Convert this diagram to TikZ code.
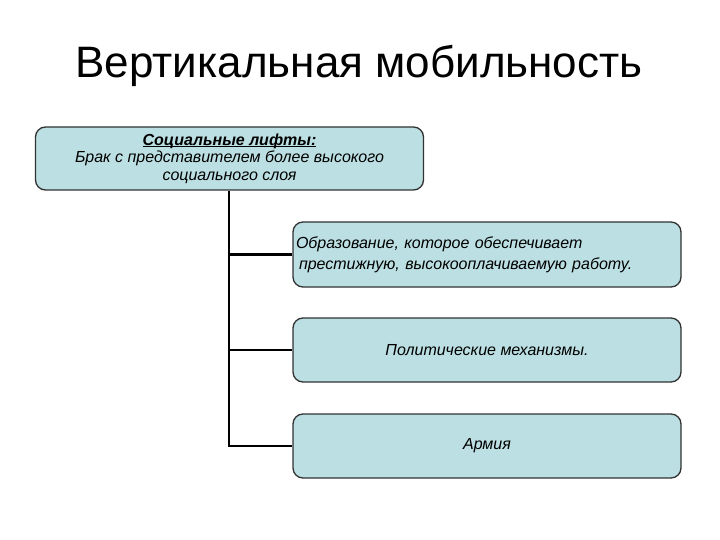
\documentclass[tikz,border=0pt]{standalone}
\usepackage{fontspec}
\setmainfont{Liberation Sans}
\definecolor{boxfill}{RGB}{187,223,226}
\definecolor{boxline}{RGB}{50,50,50}
\newcommand\myul[1]{\setbox0\hbox{#1}\rlap{\rule[-2pt]{\wd0}{0.9pt}}\box0}
\begin{document}
\begin{tikzpicture}[x=1pt,y=-1pt,
  lbox/.style={draw=boxline,line width=1.3pt,fill=boxfill,rounded corners=10pt,
    minimum width=388pt,inner sep=0pt,font=\fontsize{16}{17.5}\selectfont\itshape},
  conn/.style={draw=black,line width=2.8pt}]
\useasboundingbox (0,0) rectangle (720,540);
\node (title) at (359,66) {\fontsize{44}{50}\selectfont Вертикальная мобильность};
\node[lbox,minimum height=63pt,align=center] (top) at (229.5,158.5)
  {\myul{\bfseries Социальные лифты:}\\Брак с представителем более высокого\\социального слоя};
\node[lbox,minimum height=65pt,align=left,text width=382pt,
  font=\fontsize{16}{21}\selectfont\itshape] (b1) at (487,254.5)
  {Образование, которое обеспечивает\\\hspace{3pt}престижную, высокооплачиваемую работу.};
\node[lbox,minimum height=64pt] (b2) at (487,350) {Политические механизмы.};
\node[lbox,minimum height=64pt] (b3) at (487,446) {Армия};
\coordinate (j1) at (229,254.5);
\coordinate (j2) at (229,350);
\coordinate (j3) at (229,446);
\draw[conn] (top.south -| j1) -- (j3) -- (b3.west);
\draw[conn] (j1) -- (b1.west);
\draw[conn] (j2) -- (b2.west);
\end{tikzpicture}
\end{document}
